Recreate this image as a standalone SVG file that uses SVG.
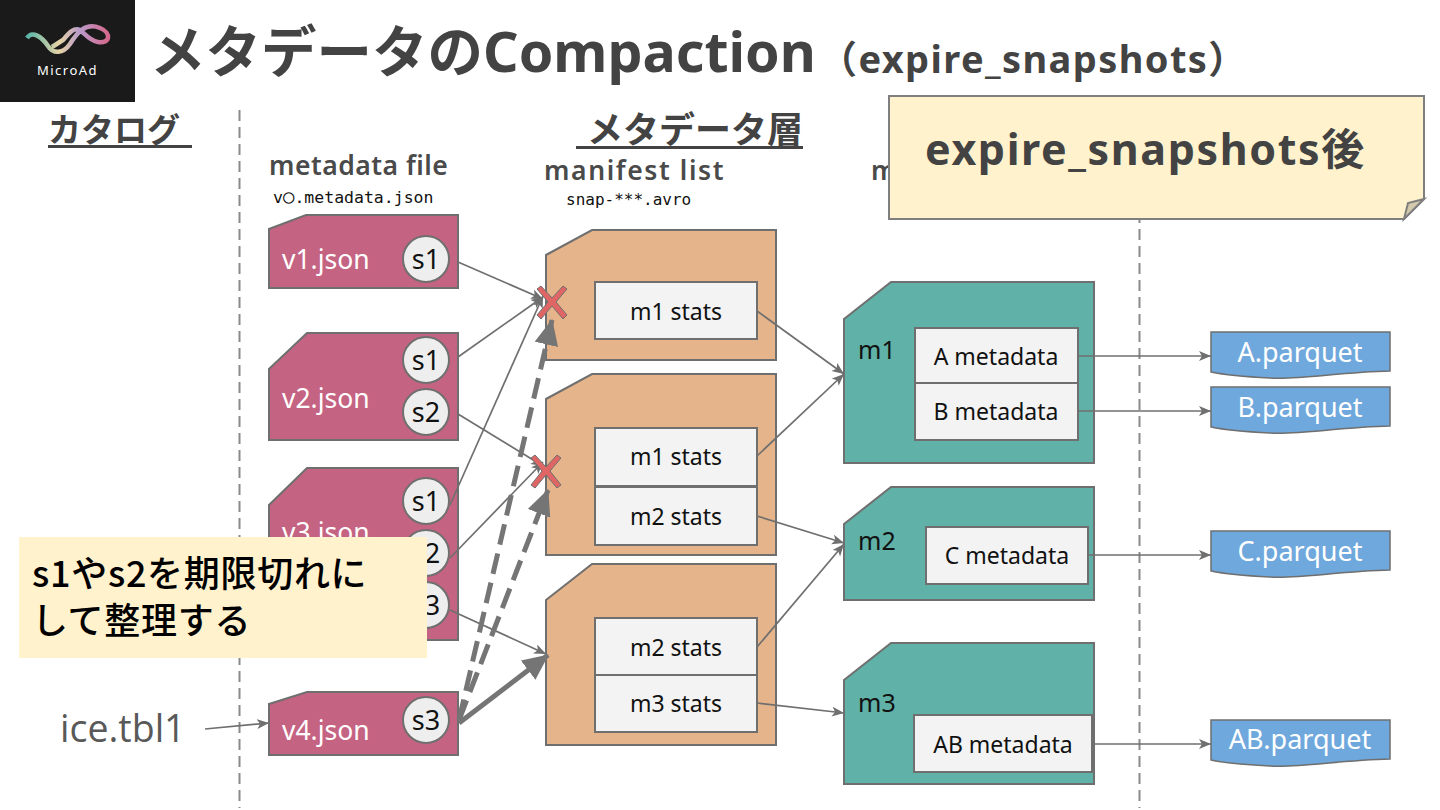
<svg xmlns="http://www.w3.org/2000/svg" width="1440" height="810" viewBox="0 0 1440 810">
<style>
text{font-family:"Noto Sans","Noto Sans CJK JP",sans-serif}
.h{font-weight:700;fill:#434343}
.u{font-weight:700;fill:#434343;font-size:33px}
.sub{font-weight:600;fill:#4a4a4a;font-size:26.500px}
.mono{font-family:"DejaVu Sans Mono","Liberation Mono",monospace;font-size:16.500px;fill:#111}
.v{fill:#c56383;stroke:#6f6f6f;stroke-width:2}
.o{fill:#e6b48a;stroke:#6f6f6f;stroke-width:2}
.g{fill:#60b1a7;stroke:#6f6f6f;stroke-width:2}
.b{fill:#f3f3f3;stroke:#6f6f6f;stroke-width:2}
.f{fill:#6fa8dc;stroke:#6f6f6f;stroke-width:1.5}
.c{fill:#eeeeee;stroke:#6f6f6f;stroke-width:2}
.w{fill:#fff;font-size:26.500px}
.t{fill:#111;font-size:23px;text-anchor:middle}
.k{fill:#111;font-size:27px;text-anchor:middle}
.l{fill:#111;font-size:25px}
.p{fill:#fff;font-size:27px;text-anchor:middle}
.ln{fill:none;stroke:#6f6f6f;stroke-width:1.7}
.th{fill:none;stroke:#757575;stroke-width:5}
.d{fill:none;stroke:#757575;stroke-width:5;stroke-dasharray:21 9}
.x{fill:#e06666;stroke:#6f6f6f;stroke-width:1}
.cj{font-family:"Noto Sans CJK JP",sans-serif;font-size:36px;fill:#000;font-weight:500;letter-spacing:.7px}
</style>
<defs>
<marker id="a" markerUnits="userSpaceOnUse" markerWidth="14" markerHeight="12" refX="12" refY="5" orient="auto"><path d="M0 0L12 5L0 10L3 5Z" fill="#6f6f6f"/></marker>
<marker id="a2" markerUnits="userSpaceOnUse" markerWidth="28" markerHeight="26" refX="25" refY="12" orient="auto"><path d="M0 0L26 12L0 24Z" fill="#757575"/></marker>
<linearGradient id="lg" x1="0" x2="1" y1="0" y2="0"><stop offset="0" stop-color="#57b5a8"/><stop offset=".4" stop-color="#e6d3a5"/><stop offset=".65" stop-color="#b99ac9"/><stop offset="1" stop-color="#d5688d"/></linearGradient>
</defs>
<rect width="1440" height="810" fill="#fff"/>

<g id="logo">
<rect width="135" height="102" fill="#1a1a1a"/>
<path d="M27 38C32 30 42 37 48 46C53 54 63 54 70 44C77 33 85 22 100 28C112 33 110 44 98 42C90 41 85 34 80 30C74 27 69 33 63 40L52 47" fill="none" stroke="url(#lg)" stroke-width="4.500"/>
<text x="67.500" y="75" font-size="13" fill="#fff" text-anchor="middle" letter-spacing="1.500">MicroAd</text>
</g>

<g id="title">
<text class="h" x="150" y="72" font-size="55.500">メタデータのCompaction</text>
<text class="h" x="819" y="73" font-size="38" style="letter-spacing:1.400px">（expire_snapshots）</text>
</g>

<g id="headers">
<text class="u" x="48" y="142">カタログ</text><rect x="48" y="145" width="144" height="3" fill="#434343"/>
<text class="u" x="587" y="143" style="font-size:36px">メタデータ層</text><rect x="576" y="146" width="227" height="3" fill="#434343"/>
<text class="sub" x="269" y="175" style="letter-spacing:.5px">metadata file</text>
<text class="mono" x="273" y="203">v<tspan font-size="19">○</tspan>.metadata.json</text>
<text class="sub" x="544" y="180" style="letter-spacing:1.600px">manifest list</text>
<text class="mono" x="566" y="205" style="font-size:16px">snap-***.avro</text>
<text class="sub" x="871" y="180">m</text>
</g>

<g id="dividers" fill="none" stroke="#8a8a8a" stroke-width="2" stroke-dasharray="11 6">
<path d="M239.500 110V808"/><path d="M1139.500 110V808"/>
</g>

<g id="v1"><path class="v" d="M269 229L306 215H458V288H269Z"/><text class="w" x="282" y="269">v1.json</text><circle class="c" cx="426" cy="259" r="23"/><text class="k" x="426" y="269">s1</text></g>
<g id="v2"><path class="v" d="M269 369L307 333H458V440H269Z"/><text class="w" x="282" y="408">v2.json</text><circle class="c" cx="426" cy="360" r="23"/><text class="k" x="426" y="370">s1</text><circle class="c" cx="426" cy="412" r="23"/><text class="k" x="426" y="422">s2</text></g>
<g id="v3"><path class="v" d="M269 505L307 468H458V640H269Z"/><text class="w" x="282" y="542">v3.json</text><circle class="c" cx="426" cy="501" r="23"/><text class="k" x="426" y="511">s1</text><circle class="c" cx="426" cy="553" r="23"/><text class="k" x="426" y="563">s2</text><circle class="c" cx="426" cy="605" r="23"/><text class="k" x="426" y="615">s3</text></g>
<g id="v4"><path class="v" d="M269 704L307 692H458V755H269Z"/><text class="w" x="282" y="740">v4.json</text><circle class="c" cx="426" cy="720" r="23"/><text class="k" x="426" y="730">s3</text></g>

<g id="ml1"><path class="o" d="M546 255L592 230H776V360H546Z"/><rect class="b" x="595" y="282" width="162" height="57"/><text class="t" x="676" y="320">m1 stats</text></g>
<g id="ml2"><path class="o" d="M546 399L592 374H776V555H546Z"/><rect class="b" x="595" y="428" width="162" height="58"/><text class="t" x="676" y="465">m1 stats</text><rect class="b" x="595" y="487" width="162" height="58"/><text class="t" x="676" y="525">m2 stats</text></g>
<g id="ml3"><path class="o" d="M546 600L592 564H776V745H546Z"/><rect class="b" x="595" y="618" width="162" height="57"/><text class="t" x="676" y="656">m2 stats</text><rect class="b" x="595" y="675" width="162" height="57"/><text class="t" x="676" y="712">m3 stats</text></g>

<g id="m1"><path class="g" d="M844 319L891 282H1094V463H844Z"/><text class="l" x="858" y="359">m1</text><rect class="b" x="915" y="328" width="163" height="55"/><text class="t" x="996" y="365">A metadata</text><rect class="b" x="915" y="383" width="163" height="57"/><text class="t" x="996" y="420">B metadata</text></g>
<g id="m2"><path class="g" d="M844 524L891 487H1094V600H844Z"/><text class="l" x="858" y="550">m2</text><rect class="b" x="926" y="527" width="162" height="57"/><text class="t" x="1007" y="564">C metadata</text></g>
<g id="m3"><path class="g" d="M844 680L891 643H1094V784H844Z"/><text class="l" x="858" y="712">m3</text><rect class="b" x="914" y="715" width="178" height="57"/><text class="t" x="1003" y="753">AB metadata</text></g>

<g id="fa"><path class="f" d="M1211 332H1390V371C1340 372 1300 380 1270 378C1250 377 1230 376 1211 372Z"/><text class="p" x="1300" y="362">A.parquet</text></g>
<g id="fb"><path class="f" d="M1211 387H1390V426C1340 427 1300 435 1270 433C1250 432 1230 431 1211 427Z"/><text class="p" x="1300" y="417">B.parquet</text></g>
<g id="fc"><path class="f" d="M1211 531H1390V570C1340 571 1300 579 1270 577C1250 576 1230 575 1211 571Z"/><text class="p" x="1300" y="561">C.parquet</text></g>
<g id="fab"><path class="f" d="M1211 720H1390V759C1340 760 1300 768 1270 766C1250 765 1230 764 1211 760Z"/><text class="p" x="1300" y="749">AB.parquet</text></g>

<text id="tbl" x="60" y="742" fill="#595959" style="font-family:'Open Sans',sans-serif;font-size:37.500px">ice.tbl1</text>

<g id="connectors">
<path class="ln" marker-end="url(#a)" d="M458 262L543 299"/>
<path class="ln" marker-end="url(#a)" d="M458 357L543 297"/>
<path class="ln" marker-end="url(#a)" d="M450 505L543 296"/>
<path class="ln" marker-end="url(#a)" d="M458 414L543 466"/>
<path class="ln" marker-end="url(#a)" d="M450 558L543 462"/>
<path class="ln" marker-end="url(#a)" d="M450 610L546 654"/>
<path class="ln" marker-end="url(#a)" d="M757 311L844 374"/>
<path class="ln" marker-end="url(#a)" d="M757 456L844 374"/>
<path class="ln" marker-end="url(#a)" d="M757 516L844 543"/>
<path class="ln" marker-end="url(#a)" d="M757 647L844 544"/>
<path class="ln" marker-end="url(#a)" d="M757 703L844 713"/>
<path class="ln" marker-end="url(#a)" d="M1078 356H1211"/>
<path class="ln" marker-end="url(#a)" d="M1078 411H1211"/>
<path class="ln" marker-end="url(#a)" d="M1088 555H1211"/>
<path class="ln" marker-end="url(#a)" d="M1092 744H1211"/>
<path class="ln" marker-end="url(#a)" d="M205 729L269 723"/>
<path class="d" marker-end="url(#a2)" d="M459 720L552 320"/>
<path class="d" marker-end="url(#a2)" d="M459 720L548 490"/>
<path class="th" marker-end="url(#a2)" d="M459 723L548 655"/>
</g>

<g id="x1"><path class="x" d="M537 289L541 286L552 298L563 286L567 289L556 302L567 315L563 319L552 306L541 319L537 315L548 302Z"/></g>
<g id="x2"><path class="x" d="M531 458L535 455L546 467L557 455L561 458L550 471L561 485L557 488L546 475L535 488L531 485L542 471Z"/></g>

<g id="callout">
<rect x="19" y="537" width="408" height="121" fill="#fff2cc"/>
<text class="cj" x="32" y="587">s1やs2を期限切れに</text>
<text class="cj" x="32" y="634">して整理する</text>
</g>

<g id="note">
<path d="M889 96H1424V199L1404 219H889Z" fill="#fff2cc" stroke="#7f7f7f" stroke-width="2"/>
<path d="M1424 199L1408 203L1404 219Z" fill="#d3c9ad" stroke="#7f7f7f" stroke-width="2"/>
<text class="h" x="925" y="165" font-size="43" style="letter-spacing:1.600px">expire_snapshots後</text>
</g>
</svg>
